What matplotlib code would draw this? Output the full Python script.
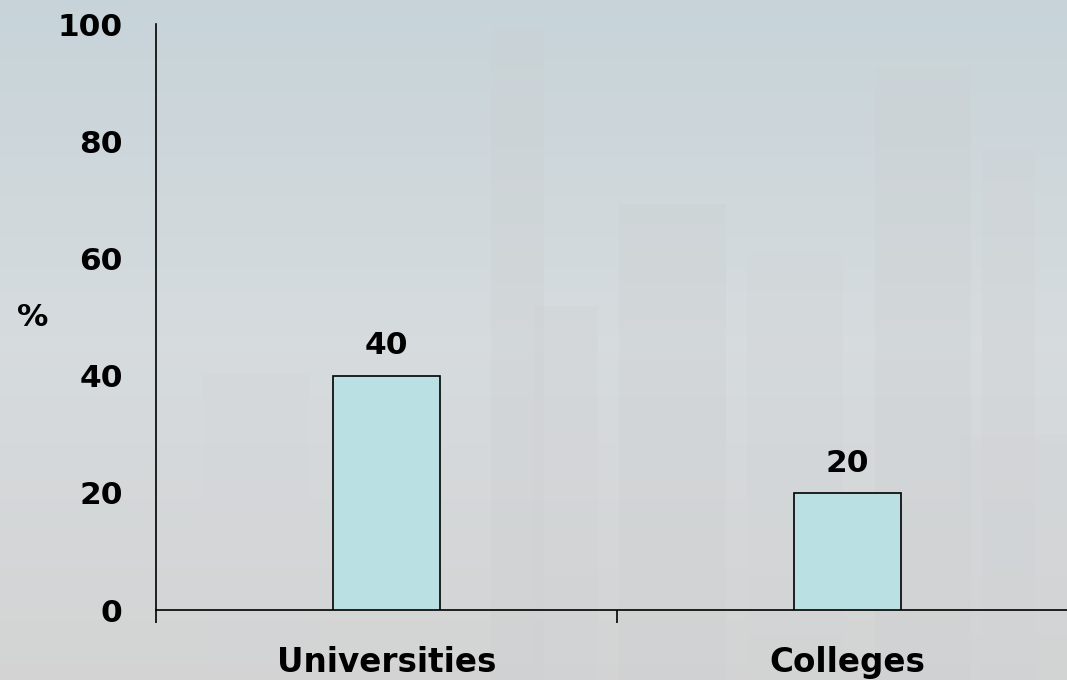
import numpy as np
import matplotlib
matplotlib.use("Agg")
import matplotlib.pyplot as plt
from matplotlib.patches import Rectangle

categories = ["Universities", "Colleges"]
values = [40, 20]
value_labels = ["40", "20"]
yticks = [0, 20, 40, 60, 80, 100]
ylabel = "%"

plt.rcParams['font.family'] = ['DejaVu Sans']
FS = 22.5
FS_CAT = 23.5

fig = plt.figure(figsize=(10.67, 6.8), dpi=100)

# background: faded skyline-like gradient
bg = fig.add_axes([0, 0, 1, 1], zorder=0)
bg.set_axis_off()
h = 680
top = np.array([0.78, 0.83, 0.85])
mid = np.array([0.84, 0.86, 0.87])
bot = np.array([0.83, 0.83, 0.83])
grad = np.zeros((h, 1, 3))
for i in range(h):
    f = i / (h - 1)
    if f < 0.5:
        c = top + (mid - top) * (f / 0.5)
    else:
        c = mid + (bot - mid) * ((f - 0.5) / 0.5)
    grad[i, 0, :] = c
bg.imshow(grad, aspect='auto', extent=[0, 1, 0, 1], origin='upper')
buildings = [(0.46, 0.0, 0.05, 0.96, 0.80), (0.58, 0.0, 0.10, 0.70, 0.80),
             (0.70, 0.0, 0.09, 0.63, 0.82), (0.82, 0.0, 0.09, 0.90, 0.80),
             (0.92, 0.0, 0.05, 0.78, 0.81), (0.19, 0.0, 0.10, 0.45, 0.83),
             (0.90, 0.0, 0.10, 0.36, 0.82), (0.50, 0.0, 0.06, 0.55, 0.81)]
for x0, y0, w, hh, g in buildings:
    bg.add_patch(Rectangle((x0, y0), w, hh, facecolor=(g, g + 0.01, g + 0.02),
                           alpha=0.3, edgecolor='none', transform=bg.transAxes))
bg.set_xlim(0, 1)
bg.set_ylim(0, 1)

ax = fig.add_axes([156 / 1067, 70 / 680, 922 / 1067, 586 / 680], zorder=1)
ax.patch.set_alpha(0)
x = np.arange(len(categories))
ax.bar(x, values, width=0.234, color='#BBE0E3', edgecolor='black', linewidth=1.2, zorder=3)
for xi, v, lab in zip(x, values, value_labels):
    ax.text(xi, v + 2.6, lab, ha='center', va='bottom', fontsize=FS, fontweight='bold')

ax.set_xlim(-0.5, len(categories) - 0.5)
ax.set_ylim(0, 100)
ax.set_yticks(yticks)
ax.set_yticklabels([str(v) for v in yticks], fontsize=FS, fontweight='bold')
ax.tick_params(axis='y', length=0, pad=24)

ax.set_xticks(np.arange(-0.5, len(categories), 1.0), minor=False)
ax.set_xticklabels([])
ax.set_xticks(x, minor=True)
ax.set_xticklabels(categories, minor=True, fontsize=FS_CAT, fontweight='bold')
ax.tick_params(axis='x', which='major', length=9, width=1.2, direction='out')
ax.tick_params(axis='x', which='minor', length=0, pad=26)

for s in ['top', 'right']:
    ax.spines[s].set_visible(False)
for s in ['left', 'bottom']:
    ax.spines[s].set_linewidth(1.2)

ax.set_ylabel(ylabel, rotation=0, fontsize=FS, fontweight='bold', labelpad=0,
              ha='center', va='center')
ax.yaxis.set_label_coords(-0.134, 0.50)

fig.savefig("out.png", dpi=100)
